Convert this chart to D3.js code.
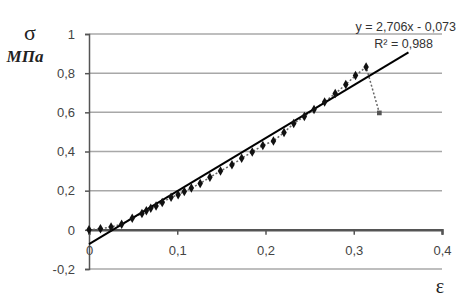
<!DOCTYPE html>
<html>
<head>
<meta charset="utf-8">
<script src="https://cdn.jsdelivr.net/npm/d3@7"></script>
<style>
body{margin:0;background:#fff;}
text{font-family:"Liberation Sans",Arial,sans-serif;}
</style>
</head>
<body>
<div id="wrapper"></div>
<script>
// Data
const strain = [0, 0.013, 0.025, 0.037, 0.049, 0.060, 0.065, 0.070, 0.076, 0.083, 0.093, 0.101, 0.108, 0.116,
  0.126, 0.137, 0.149, 0.162, 0.173, 0.185, 0.197, 0.209, 0.221, 0.232, 0.244, 0.255, 0.267, 0.279,
  0.291, 0.302, 0.314, 0.329];
const stress = [0, 0.005, 0.015, 0.028, 0.059, 0.084, 0.097, 0.110, 0.122, 0.140, 0.166, 0.179, 0.196, 0.214,
  0.237, 0.268, 0.301, 0.332, 0.365, 0.398, 0.431, 0.454, 0.497, 0.543, 0.579, 0.615, 0.653, 0.696,
  0.742, 0.788, 0.832, 0.597];
const xTicks = [0, 0.1, 0.2, 0.3, 0.4];
const yTicks = [-0.2, 0, 0.2, 0.4, 0.6, 0.8, 1];
const trendSlope = 2.706, trendIntercept = -0.073;
const trendRange = [0, 0.362];
const eqLabel = "y = 2,706x - 0,073";
const r2Label = "R² = 0,988";

const dataset = strain.map((d, i) => ({x: d, y: stress[i]}));
const fmt = d => String(d).replace(".", ",");

// Dimension
const dimension = {width: 476, height: 299};

// Scales
const xScale = d3.scaleLinear().domain([0, 0.4]).range([89, 442]);
const yScale = d3.scaleLinear().domain([-0.2, 1]).range([269, 34]);

const svg = d3.select("#wrapper").append("svg")
  .attr("width", dimension.width).attr("height", dimension.height);

// Gridlines
svg.append("g").selectAll("line")
  .data(yTicks.filter(d => d !== 0)).enter().append("line")
  .attr("x1", xScale(0)).attr("x2", xScale(0.4))
  .attr("y1", yScale).attr("y2", yScale)
  .attr("stroke", "#a8a8a8").attr("stroke-width", 1.5);

// y axis
const yAxis = svg.append("g").attr("transform", `translate(${xScale(0)},0)`)
  .call(d3.axisLeft(yScale).tickValues(yTicks).tickSize(4).tickPadding(10).tickFormat(fmt));
yAxis.select(".domain").attr("stroke", "#555").attr("stroke-width", 1.5);
yAxis.selectAll(".tick line").attr("stroke", "#555").attr("stroke-width", 1.5);
yAxis.selectAll("text").attr("font-size", "13px").attr("fill", "#444")
  .attr("font-family", "Liberation Sans, Arial, sans-serif");

// x axis (at y = 0)
const xAxis = svg.append("g").attr("transform", `translate(0,${yScale(0)})`)
  .call(d3.axisBottom(xScale).tickValues(xTicks).tickSizeOuter(0).tickSize(5).tickPadding(11).tickFormat(fmt));
xAxis.select(".domain").attr("stroke", "#555").attr("stroke-width", 2.5);
xAxis.selectAll(".tick line").attr("stroke", "#555").attr("stroke-width", 1.5);
xAxis.selectAll("text").attr("font-size", "13px").attr("fill", "#444")
  .attr("font-family", "Liberation Sans, Arial, sans-serif");

// Data line
const line = d3.line().x(d => xScale(d.x)).y(d => yScale(d.y));
svg.append("path").datum(dataset)
  .attr("d", line).attr("fill", "none")
  .attr("stroke", "#666").attr("stroke-width", 1.5).attr("stroke-dasharray", "2,2");

// Trend line
svg.append("line")
  .attr("x1", xScale(trendRange[0])).attr("y1", yScale(trendSlope * trendRange[0] + trendIntercept))
  .attr("x2", xScale(trendRange[1])).attr("y2", yScale(trendSlope * trendRange[1] + trendIntercept))
  .attr("stroke", "#000").attr("stroke-width", 2);

// Markers
const last = dataset.length - 1;
svg.append("g").selectAll("path")
  .data(dataset).enter().append("path")
  .attr("d", (d, i) => d3.symbol().type(i === last ? d3.symbolSquare : d3.symbolDiamond)
    .size(i === last ? 22 : 26)())
  .attr("transform", d => `translate(${xScale(d.x)},${yScale(d.y)})`)
  .attr("fill", (d, i) => i === last ? "#555" : "#111");

// Equation labels
svg.append("text").attr("x", 456).attr("y", 31).attr("text-anchor", "end")
  .attr("font-size", "12.5px").attr("fill", "#333").text(eqLabel);
svg.append("text").attr("x", 433).attr("y", 48).attr("text-anchor", "end")
  .attr("font-size", "12.5px").attr("fill", "#333").text(r2Label);

// Axis titles
svg.append("text").attr("x", 30).attr("y", 40).attr("text-anchor", "middle")
  .style("font-family", "Liberation Serif, Times New Roman, serif")
  .attr("font-size", "22px").attr("fill", "#222").text("σ");
svg.append("text").attr("x", 25).attr("y", 62).attr("text-anchor", "middle")
  .style("font-family", "Liberation Serif, Times New Roman, serif")
  .attr("font-size", "17px").attr("font-weight", "bold").attr("font-style", "italic")
  .attr("fill", "#222").text("МПа");
svg.append("text").attr("x", 440).attr("y", 293).attr("text-anchor", "middle")
  .style("font-family", "Liberation Serif, Times New Roman, serif")
  .attr("font-size", "20px").attr("fill", "#222").text("ε");
</script>
</body>
</html>
